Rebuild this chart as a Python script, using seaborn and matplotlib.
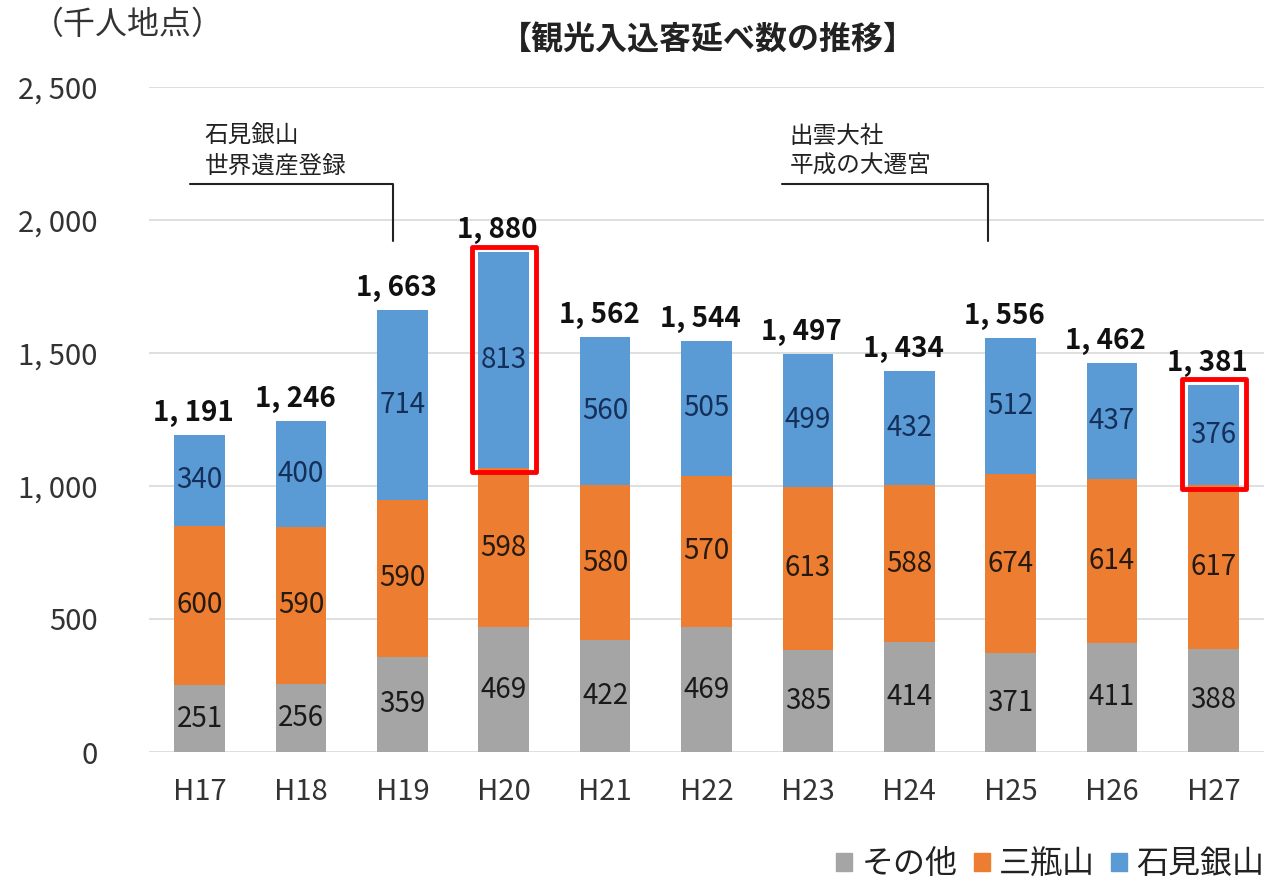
import matplotlib
matplotlib.use("Agg")
import matplotlib.pyplot as plt
import matplotlib.patches as mpatches
import seaborn as sns
import pandas as pd

years = ["H17", "H18", "H19", "H20", "H21", "H22", "H23", "H24", "H25", "H26", "H27"]
sonota = [251, 256, 359, 469, 422, 469, 385, 414, 371, 411, 388]
sanbe = [600, 590, 590, 598, 580, 570, 613, 588, 674, 614, 617]
iwami = [340, 400, 714, 813, 560, 505, 499, 432, 512, 437, 376]
totals = [1191, 1246, 1663, 1880, 1562, 1544, 1497, 1434, 1556, 1462, 1381]
series_names = ["その他", "三瓶山", "石見銀山"]
highlight = ["H20", "H27"]
note_texts = ["石見銀山\n世界遺産登録", "出雲大社\n平成の大遷宮"]

colors = {"その他": "#A5A5A5", "三瓶山": "#ED7D31", "石見銀山": "#5B9BD5"}
label_colors = {"その他": "#1a1a1a", "三瓶山": "#241a10", "石見銀山": "#14305a"}

sns.set_style("white")
plt.rcParams["font.family"] = ["Noto Sans CJK JP", "DejaVu Sans"]

df = pd.DataFrame({"year": years, "その他": sonota, "三瓶山": sanbe, "石見銀山": iwami})
df["c1"] = df["その他"]
df["c2"] = df["c1"] + df["三瓶山"]
df["c3"] = df["c2"] + df["石見銀山"]

fig = plt.figure(figsize=(12.87, 8.91), dpi=100)
ax = fig.add_axes([149 / 1287, 1 - 752 / 891, (1264 - 149) / 1287, (752 - 87) / 891])

# stacked by layering cumulative heights
for col, name, z in [("c3", "石見銀山", 2), ("c2", "三瓶山", 3), ("c1", "その他", 4)]:
    sns.barplot(data=df, x="year", y=col, color=colors[name], width=0.5,
                saturation=1, linewidth=0, ax=ax, zorder=z)

ax.set_ylim(0, 2500)
ax.set_xlim(-0.5, len(years) - 0.5)
ax.set_yticks(range(0, 2501, 500))
ax.set_yticklabels([f"{v:,}".replace(",", ", ") for v in range(0, 2501, 500)],
                   fontsize=21, color="#333333")
ax.set_xticks(range(len(years)))
ax.set_xticklabels(years, fontsize=21, color="#333333")
ax.tick_params(axis="y", length=0, pad=37)
ax.tick_params(axis="x", length=0, pad=18)
ax.set_xlabel("")
ax.set_ylabel("")
ax.yaxis.grid(True, color="#d9d9d9", linewidth=1.2, zorder=0)
ax.set_axisbelow(True)
for s in ax.spines.values():
    s.set_visible(False)

# segment labels and totals
for i, row in df.iterrows():
    bottoms = [0, row["c1"], row["c2"]]
    for name, b in zip(series_names, bottoms):
        v = row[name]
        ax.text(i, b + v / 2, str(v), ha="center", va="center", fontsize=20,
                color=label_colors[name], zorder=6)
    ax.text(i - 0.06, row["c3"] + 30, f"{totals[i]:,}".replace(",", ", "), ha="center",
            va="bottom", fontsize=20, fontweight="bold", color="#111111", zorder=6)

# red boxes around highlighted blue segments
for yr in highlight:
    i = years.index(yr)
    lo = df.loc[i, "c2"]
    hi = df.loc[i, "c3"]
    ax.add_patch(mpatches.Rectangle((i - 0.31, lo - 15), 0.63, hi - lo + 35,
                                    fill=False, edgecolor="#ff0000", linewidth=3.5,
                                    zorder=7, joinstyle="round"))

# event brackets (positions in category units)
bracket_pos = [(-0.10, 1.905, 0.05), (5.745, 7.78, 5.82)]
for text, (x0, x1, tx) in zip(note_texts, bracket_pos):
    ax.plot([x0, x1, x1], [2135, 2135, 1920], color="#222222", linewidth=1.5,
            zorder=5, clip_on=False)
    ax.text(tx, 2160, text, ha="left", va="bottom", fontsize=17,
            color="#222222", linespacing=1.35, zorder=6)

fig.text(0.025, 0.972, "（千人地点）", fontsize=23, color="#333333", va="center")
fig.text(0.55, 0.955, "【観光入込客延べ数の推移】", fontsize=23, fontweight="bold",
         color="#222222", ha="center", va="center")

handles = [mpatches.Patch(color=colors[n], label=n) for n in series_names]
leg = fig.legend(handles=handles, loc="lower right", bbox_to_anchor=(1.005, -0.02),
                 ncol=3, frameon=False, fontsize=23, handlelength=0.5,
                 handleheight=0.5, handletextpad=0.3, columnspacing=0.5)
for t in leg.get_texts():
    t.set_color("#222222")

fig.savefig("out.png", dpi=100)
